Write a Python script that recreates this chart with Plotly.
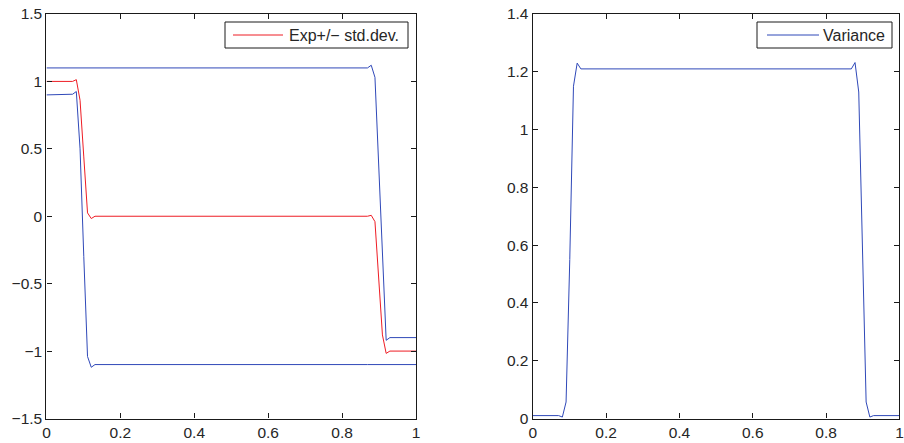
import plotly.graph_objects as go

# ---- data (breakpoints of the piecewise-linear curves) ----
x_left = [0.0, 0.0606, 0.0707, 0.0808, 0.0909, 0.1010, 0.1111, 0.1212, 0.1313,
          0.8687, 0.8788, 0.8889, 0.8990, 0.9091, 0.9192, 0.9293, 1.0]
exp_mean = [1.0, 1.0, 1.0, 1.013, 0.86, 0.44, 0.025, -0.017, 0.0,
            0.0, 0.007, -0.04, -0.46, -0.88, -1.017, -1.0, -1.0]
exp_plus_std = [1.1, 1.1, 1.1, 1.1, 1.1, 1.1, 1.1, 1.1, 1.1,
                1.1, 1.12, 1.03, 0.38, -0.27, -0.92, -0.9, -0.9]
exp_minus_std = [0.9, 0.9, 0.905, 0.925, 0.5, -0.3, -1.04, -1.12, -1.1,
                 -1.1, -1.1, -1.1, -1.1, -1.1, -1.1, -1.1, -1.1]

x_var = [0.0, 0.0707, 0.0808, 0.0909, 0.1010, 0.1111, 0.1212, 0.1313,
         0.8687, 0.8788, 0.8889, 0.8990, 0.9091, 0.9192, 0.9293, 1.0]
variance = [0.01, 0.01, 0.005, 0.057, 0.55, 1.15, 1.23, 1.21,
            1.21, 1.232, 1.13, 0.55, 0.057, 0.005, 0.01, 0.01]

x_ticks = [0, 0.2, 0.4, 0.6, 0.8, 1]
x_ticklabels = ["0", "0.2", "0.4", "0.6", "0.8", "1"]
yl_ticks = [-1.5, -1, -0.5, 0, 0.5, 1, 1.5]
yl_ticklabels = ["\u22121.5", "\u22121", "\u22120.5", "0", "0.5", "1", "1.5"]
yr_ticks = [0, 0.2, 0.4, 0.6, 0.8, 1, 1.2, 1.4]
yr_ticklabels = ["0", "0.2", "0.4", "0.6", "0.8", "1", "1.2", "1.4"]

legend_left_label = "Exp+/\u2212 std.dev."
legend_right_label = "Variance"

RED = "#ee1c24"
BLUE = "#2f48b8"
FONT = "Liberation Sans, Arial, Helvetica, sans-serif"
TXT = "#262626"
AX = "#1a1a1a"
W, H = 904, 443

fig = go.Figure()
fig.add_trace(go.Scatter(x=x_left, y=exp_mean, mode="lines", name=legend_left_label,
                         line=dict(color=RED, width=1), xaxis="x", yaxis="y", showlegend=False))
fig.add_trace(go.Scatter(x=x_left, y=exp_plus_std, mode="lines", name="Exp + std",
                         line=dict(color=BLUE, width=1), xaxis="x", yaxis="y", showlegend=False))
fig.add_trace(go.Scatter(x=x_left, y=exp_minus_std, mode="lines", name="Exp \u2212 std",
                         line=dict(color=BLUE, width=1), xaxis="x", yaxis="y", showlegend=False))
fig.add_trace(go.Scatter(x=x_var, y=variance, mode="lines", name=legend_right_label,
                         line=dict(color=BLUE, width=1), xaxis="x2", yaxis="y2", showlegend=False))

ydom = [0.0553, 0.9684]
axis_common = dict(showline=True, linecolor=AX, linewidth=1.3, mirror="ticks",
                   ticks="inside", ticklen=5, tickcolor=AX, showgrid=False,
                   zeroline=False, automargin=False, ticklabeloverflow="allow",
                   tickfont=dict(family=FONT, size=15.5, color=TXT))

fig.update_layout(
    width=W, height=H,
    margin=dict(l=0, r=0, t=0, b=0),
    paper_bgcolor="white", plot_bgcolor="white",
    font=dict(family=FONT, size=15.5, color=TXT),
    xaxis=dict(domain=[0.0514, 0.4602], range=[0, 1], anchor="y",
               tickvals=x_ticks, ticktext=x_ticklabels, **axis_common),
    yaxis=dict(domain=ydom, range=[-1.5, 1.5], anchor="x",
               tickvals=yl_ticks, ticktext=yl_ticklabels, **axis_common),
    xaxis2=dict(domain=[0.5893, 0.9950], range=[0, 1], anchor="y2",
                tickvals=x_ticks, ticktext=x_ticklabels, **axis_common),
    yaxis2=dict(domain=ydom, range=[0, 1.4], anchor="x2",
                tickvals=yr_ticks, ticktext=yr_ticklabels, **axis_common),
    showlegend=False,
)


# ---- MATLAB-style boxed legends (drawn in pixel-derived paper coordinates) ----
def px(x):
    return x / W


def py(y):
    return 1 - y / H


def add_legend(box, line_x, text_x, label, color):
    x0, x1, y0, y1 = box
    fig.add_shape(type="rect", xref="paper", yref="paper",
                  x0=px(x0), x1=px(x1), y0=py(y1), y1=py(y0),
                  line=dict(color=AX, width=1), fillcolor="white", layer="above")
    ym = (y0 + y1) / 2
    fig.add_shape(type="line", xref="paper", yref="paper",
                  x0=px(line_x[0]), x1=px(line_x[1]), y0=py(ym), y1=py(ym),
                  line=dict(color=color, width=1), layer="above")
    fig.add_annotation(xref="paper", yref="paper", x=px(text_x), y=py(ym),
                       xanchor="left", yanchor="middle", showarrow=False, text=label,
                       font=dict(family=FONT, size=16, color=TXT))


add_legend((225, 408, 22, 48), (233, 283), 287, legend_left_label, RED)
add_legend((757, 892, 22, 48), (767, 819), 821, legend_right_label, BLUE)

fig.write_html("out.html", config={"displayModeBar": False},
               post_script="document.body.style.margin='0px';document.body.style.overflow='hidden';")
